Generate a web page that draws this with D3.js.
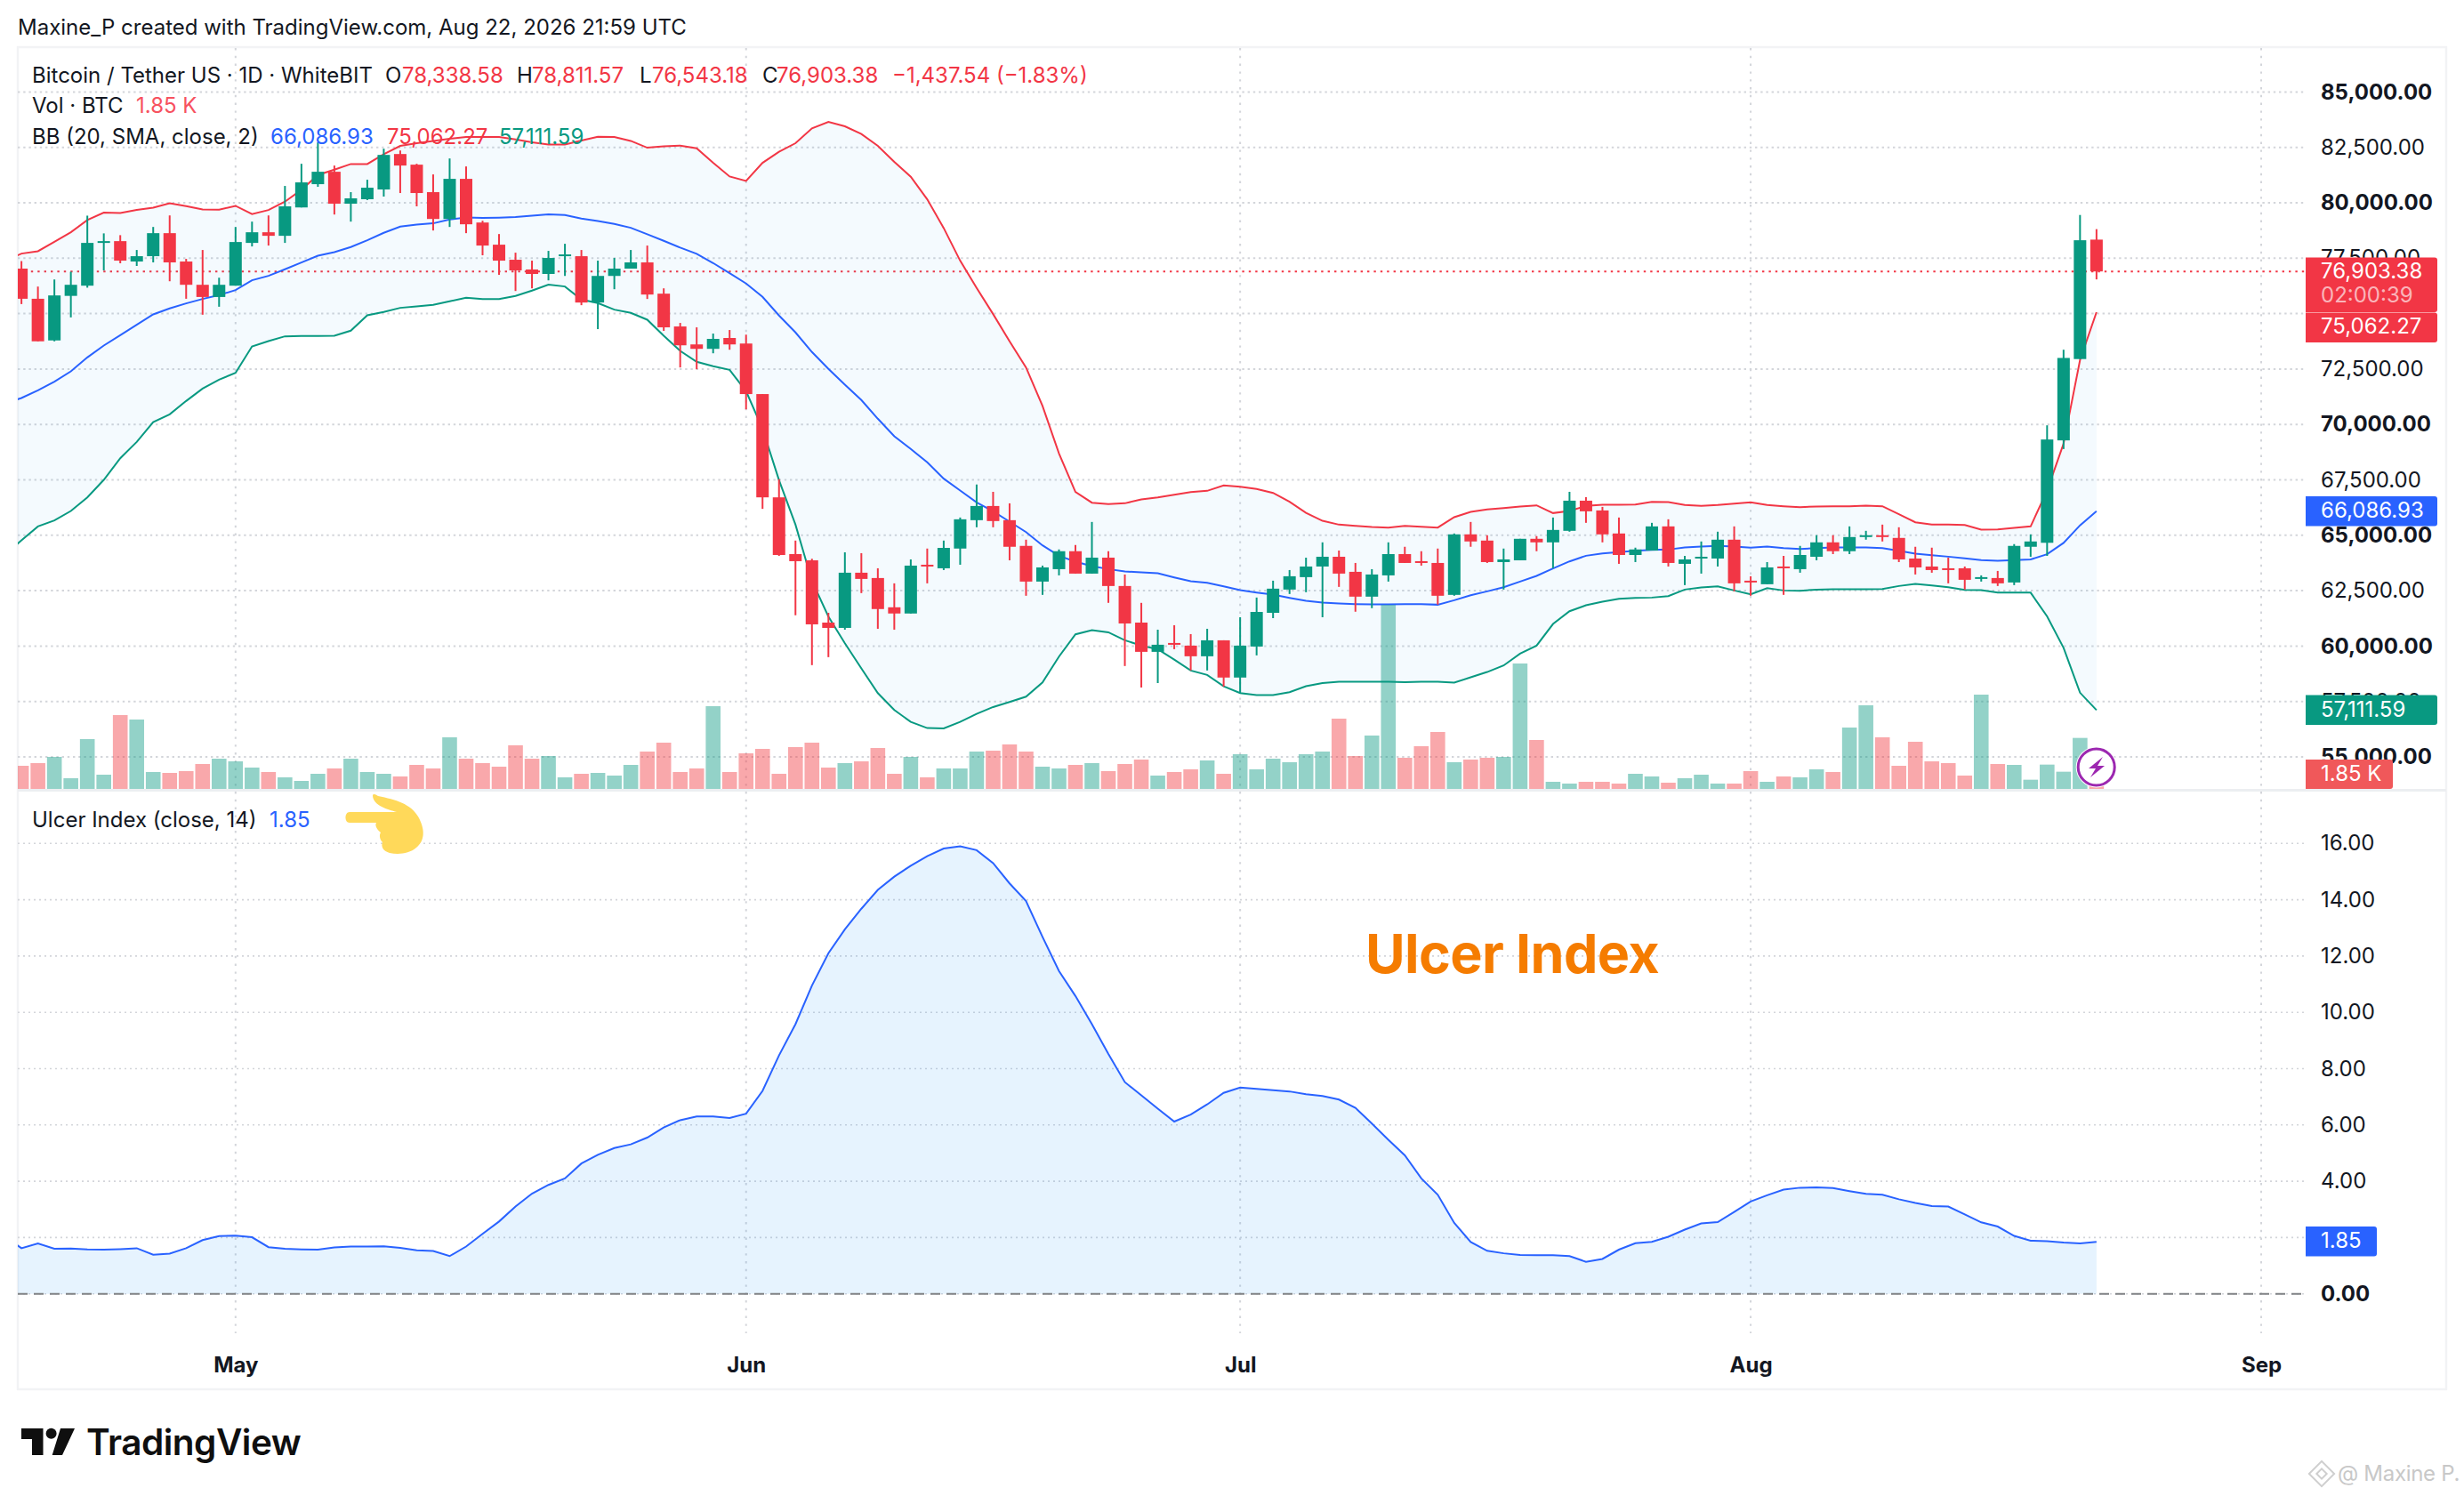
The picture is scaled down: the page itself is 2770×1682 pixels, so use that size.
<!DOCTYPE html>
<html>
<head>
<meta charset="utf-8">
<script src="https://cdn.jsdelivr.net/npm/d3@7"></script>
<style>
  html, body { margin: 0; padding: 0; background: #fff; }
  svg { display: block; }
  text { font-family: Inter, "Noto Sans", sans-serif; }
</style>
</head>
<body>
<div id="chart"></div>
<script>
// one row per day, first row is Apr 17 (only the lines reach the pane edge from it)
const firstDay = "2026-04-17";
const opens = [77500,77030,75670,73790,75800,76260,78190,78270,77350,77590,78630,77350,76300,75750,
  76260,78190,78670,78510,79790,80840,81400,79960,80160,80600,82200,81720,80480,79270,81080,79110,78110,77430,76990,76790,77590,77590,75500,76700,77030,77310,75900,74420,73610,73410,73900,
  73650,71370,66710,64150,63870,61060,60820,63310,63070,61750,61470,63670,63510,64400,65680,66320,65680,64520,62910,63470,64280,63270,63990,62710,61060,59740,60140,60020,59540,60260,
  58580,59980,61500,62550,63110,63590,64030,63350,62230,63190,64150,63830,63750,62310,65040,64760,63790,63870,64840,64680,65200,66560,66120,65080,64110,64310,65400,63710,63950,63950,64800,
  62950,62790,63590,63470,64030,64680,64280,64920,65000,64880,63950,63590,63510,63510,63030,63070,62870,64480,64660,69280,72950,78338.58];
const highs = [77800,77370,76220,76540,76890,79420,78620,78540,77870,78910,79430,77470,77870,76620,
  78910,79150,79430,80760,81760,82730,81680,80480,81040,82440,82360,81760,81280,82000,81640,79190,78590,77750,77390,77830,78150,77870,77390,77510,77870,78070,76140,74580,74380,74100,74260,
  74050,71370,67530,64760,63940,61500,64230,64190,63510,62830,63910,64400,64760,65800,67290,66960,66440,64800,63630,64360,64560,65600,64280,63230,61950,60740,60940,60540,60780,60260,
  61300,62190,62950,63430,63990,64680,64310,63750,63470,64680,64480,64280,64400,65080,65600,65000,64400,64840,64960,65800,66960,66720,66280,65800,64440,65560,65720,64070,64720,65160,65400,
  63150,63790,64070,64520,65000,65000,65400,65200,65480,65360,64480,64440,63990,63590,63190,63390,64600,65040,69960,73370,79450,78811.57];
const lows = [76800,75430,73750,73750,74830,76170,76950,77270,77150,77310,76460,75670,74950,75310,
  76260,78030,78070,78190,79790,80720,79470,79150,80120,80280,80440,79840,78750,78910,78630,77630,76750,76020,76140,76500,76700,75380,74300,76100,77030,75660,74220,72570,72490,73210,73370,
  70680,66190,64070,61390,59140,59500,60740,62390,60780,60740,61470,62830,63430,63670,65360,65360,63870,62270,62310,63190,63270,63270,61950,59100,58130,58330,59860,58900,58900,58170,
  57890,59580,61260,62350,62430,61300,62670,61550,61710,62910,63750,63630,61870,62270,64480,63750,62550,63870,64280,63510,65160,65560,64680,63710,63790,64310,63590,62750,63270,63590,62470,
  62270,62790,62310,63310,63870,64150,64150,64800,64720,63790,63230,63310,62830,62550,62910,62710,62750,64030,64070,68890,72950,76543.18];
const closes = [77030,75670,73750,75820,76300,78190,78270,77390,77590,78630,77310,76300,75750,76300,
  78230,78670,78510,79840,80920,81400,79960,80200,80680,82160,81680,80440,79270,81080,79030,78070,77390,76950,76790,77510,77670,75500,76700,77030,77310,75860,74380,73570,73410,73860,73610,
  71370,66710,64110,63830,60980,60820,63310,63030,61670,61470,63630,63590,64430,65720,66320,65640,64480,62910,63550,64280,63270,63990,62710,61020,59740,60060,60060,59540,60260,58580,
  60020,61540,62590,63150,63590,64030,63270,62230,63230,64150,63750,63750,62270,65040,64720,63790,63910,64840,64680,65240,66560,66080,65040,64110,64360,65400,63750,63910,64030,64800,62830,
  62870,63550,63510,64110,64680,64280,64920,65000,64920,63910,63550,63430,63430,62990,63110,62830,64520,64720,69320,73000,78310,76903.38];
// thousand BTC
const volumes = [14,15.6,17.4,21.6,7.2,33.6,9.6,49.8,46.8,11.4,10.8,12,16.8,20.4,
  18.6,14.4,11.4,7.8,5.4,10.2,13.8,20.4,11.4,10.2,8.4,16.2,13.8,34.8,20.4,17.4,15,29.4,20.4,22.2,7.8,10.2,10.8,9,16.2,25.2,31.2,11.4,13.8,55.8,11.4,
  24,27,10.2,28.2,31.2,14.4,17.4,18.6,27.6,10.2,21.6,7.8,13.8,13.8,25.2,25.8,30,25.2,15,13.8,16.2,17.4,12,16.8,19.8,9,11.4,13.2,19.2,10.2,
  23.4,13.2,20.4,18,23.4,25.2,47.4,22.2,36,124.2,21,28.8,38.4,18,19.8,21,21.6,84.6,33,4.8,3.6,4.8,4.8,3.6,10.2,8.4,4.2,7.2,9.6,3.6,3.6,
  12,4.8,8.4,7.8,13.2,11.4,41.4,56.4,34.8,15.6,31.8,18.6,17.4,9,63.6,16.8,16.2,6.2,16.4,11.6,34.4,1.85];
const bbUpper = [77370,77708,77815,78243,78671,79220,79555,79541,79675,79782,79983,79849,79702,79688,
  79862,79488,79675,80050,80585,81254,81495,81749,81749,82190,82565,82685,82792,82886,82966,82966,82966,82860,82726,82632,82632,82806,82980,82966,82792,82485,82552,82578,82459,81804,81188,
  80988,81804,82299,82687,83356,83650,83450,83102,82566,81844,81175,80158,78860,77388,76157,74980,73749,72572,70832,68691,66951,66469,66402,66442,66616,66710,66830,66951,67004,67245,
  67192,67085,66911,66509,66014,65653,65479,65426,65372,65345,65426,65385,65346,65814,66055,66162,66229,66296,66349,66001,66095,66322,66376,66376,66389,66510,66496,66362,66322,66362,66429,
  66483,66362,66309,66269,66296,66309,66309,66336,66309,65948,65586,65479,65479,65466,65252,65265,65332,65400,67014,69132,72908,75062.27];
const bbBasis = [70951,71192,71540,71928,72396,73025,73560,74029,74497,74965,75233,75460,75661,75835,
  76062,76504,76705,76999,77307,77614,77775,78002,78310,78645,78926,79019,79073,79247,79340,79313,79327,79354,79421,79474,79447,79287,79180,79046,78872,78578,78284,77976,77696,77281,76826,
  76358,75756,74913,74150,73267,72505,71796,71100,70257,69467,68892,68290,67553,67018,66482,66081,65613,65144,64542,64074,63806,63606,63472,63365,63325,63285,63097,62923,62857,62696,
  62522,62415,62321,62174,62040,61960,61920,61893,61880,61880,61893,61893,61867,62067,62295,62469,62656,62910,63165,63499,63820,64074,64182,64235,64302,64342,64355,64449,64489,64516,64489,
  64436,64489,64422,64382,64422,64449,64449,64449,64422,64302,64168,64101,64034,63954,63874,63847,63874,63910,64142,64656,65448,66086.93];
const bbLower = [64127,64770,65398,65666,66094,66710,67499,68476,69212,70108,70456,71058,71620,72022,
  72329,73520,73761,73975,73988,73988,74002,74229,74925,75072,75260,75327,75394,75554,75714,75661,75661,75795,76036,76303,76223,75634,75474,75179,75033,74725,74002,73320,72824,72623,72463,
  71501,69800,67486,65479,62937,61331,60127,58990,57879,57117,56581,56300,56287,56581,56943,57250,57478,57719,58361,59525,60528,60716,60622,60261,60020,59859,59391,58896,58696,58187,
  57879,57786,57786,57919,58187,58334,58388,58388,58388,58388,58374,58388,58388,58348,58589,58830,59124,59659,60020,60997,61572,61840,62001,62134,62175,62188,62255,62549,62643,62696,62509,
  62335,62616,62509,62496,62549,62563,62563,62563,62576,62710,62803,62736,62656,62536,62522,62415,62415,62409,61340,59922,57896,57111.59];
const ulcer = [2.05,1.62,1.79,1.60,1.61,1.58,1.57,1.59,1.62,1.39,1.43,1.62,1.91,2.05,
  2.07,2.01,1.66,1.60,1.58,1.57,1.65,1.68,1.68,1.69,1.63,1.55,1.52,1.34,1.68,2.13,2.57,3.10,3.56,3.87,4.10,4.63,4.94,5.18,5.31,5.55,5.91,6.17,6.30,6.30,6.25,
  6.40,7.21,8.47,9.58,10.95,12.10,12.95,13.68,14.35,14.82,15.21,15.55,15.82,15.90,15.76,15.30,14.58,13.95,12.68,11.47,10.58,9.58,8.52,7.52,7.05,6.58,6.12,6.37,6.73,7.14,
  7.33,7.28,7.23,7.19,7.09,7.03,6.90,6.61,6.05,5.47,4.92,4.10,3.52,2.52,1.84,1.53,1.44,1.38,1.37,1.37,1.34,1.14,1.24,1.57,1.80,1.85,2.03,2.28,2.50,2.55,2.91,
  3.28,3.50,3.70,3.77,3.78,3.76,3.65,3.55,3.52,3.36,3.23,3.12,3.10,2.82,2.54,2.39,2.06,1.89,1.87,1.82,1.79,1.85];

const priceTicks = [55000,57500,60000,62500,65000,67500,70000,72500,75000,77500,80000,82500,85000];
const priceLabels = [55000,57500,60000,62500,65000,67500,70000,72500,77500,80000,82500,85000];
const ulcerTicks = [0,2,4,6,8,10,12,14,16];
const ulcerLabels = [0,4,6,8,10,12,14,16];
const monthTicks = ["2026-05-01","2026-06-01","2026-07-01","2026-08-01","2026-09-01"];

const UP = "#089981", DOWN = "#f23645", BLUE = "#2962ff", INK = "#131722";
const W = 2770, H = 1682;

const parseDay = d3.utcParse("%Y-%m-%d");
const days = opens.map((_, i) => d3.utcDay.offset(parseDay(firstDay), i));
const rows = days.map((day, i) => ({
  day, open: opens[i], high: highs[i], low: lows[i], close: closes[i], vol: volumes[i],
  upper: bbUpper[i], basis: bbBasis[i], lower: bbLower[i], ui: ulcer[i],
}));

const x = d3.scaleUtc().domain([parseDay("2026-05-01"), parseDay("2026-09-01")]).range([264.8, 2542]);
const yPrice = d3.scaleLinear().domain([55000, 85000]).range([851, 103.4]);
const yVol = d3.scaleLinear().domain([0, 130]).range([887, 670.3]);
const yUlcer = d3.scaleLinear().domain([0, 16]).range([1454.7, 948.3]);

const svg = d3.select("#chart").append("svg").attr("width", W).attr("height", H);
svg.append("rect").attr("width", W).attr("height", H).attr("fill", "#fff");

const defs = svg.append("defs");
defs.append("clipPath").attr("id", "mainClip").append("rect")
  .attr("x", 20).attr("y", 54).attr("width", 2572).attr("height", 833);
defs.append("clipPath").attr("id", "uiClip").append("rect")
  .attr("x", 20).attr("y", 889).attr("width", 2572).attr("height", 610);

// Frame
svg.append("rect").attr("x", 20).attr("y", 53).attr("width", 2730).attr("height", 1509)
  .attr("fill", "none").attr("stroke", "#f2f3f5").attr("stroke-width", 2.5);

// Grid
const grid = svg.append("g").attr("fill", "none").attr("stroke", "#d3d5da");
grid.selectAll(".v").data(monthTicks).join("line")
  .attr("x1", d => x(parseDay(d))).attr("x2", d => x(parseDay(d)))
  .attr("y1", 54).attr("y2", 1499)
  .attr("stroke-width", 2).attr("stroke-dasharray", "2.4 6.4");
grid.selectAll(".hp").data(priceTicks).join("line")
  .attr("x1", 20).attr("x2", 2592)
  .attr("y1", d => yPrice(d)).attr("y2", d => yPrice(d))
  .attr("stroke-width", 2).attr("stroke-dasharray", "2.4 3.8");
grid.selectAll(".hu").data(ulcerTicks).join("line")
  .attr("x1", 20).attr("x2", 2592)
  .attr("y1", d => yUlcer(d)).attr("y2", d => yUlcer(d))
  .attr("stroke-width", 1.6).attr("stroke-dasharray", "2 4");

// Pane divider
svg.append("rect").attr("x", 20).attr("y", 887).attr("width", 2730).attr("height", 3).attr("fill", "#eceef1");

// Main pane
const main = svg.append("g").attr("clip-path", "url(#mainClip)");

main.append("line")
  .attr("x1", 20).attr("x2", 2592)
  .attr("y1", yPrice(closes[closes.length - 1])).attr("y2", yPrice(closes[closes.length - 1]))
  .attr("stroke", DOWN).attr("stroke-width", 2).attr("stroke-dasharray", "2.4 5");

const bandArea = d3.area().x(d => x(d.day)).y0(d => yPrice(d.lower)).y1(d => yPrice(d.upper));
main.append("path").datum(rows).attr("d", bandArea).attr("fill", "rgba(33,150,243,0.05)");

[["upper", DOWN], ["basis", BLUE], ["lower", UP]].forEach(([key, color]) => {
  main.append("path").datum(rows)
    .attr("d", d3.line().x(d => x(d.day)).y(d => yPrice(d[key])))
    .attr("fill", "none").attr("stroke", color).attr("stroke-width", 2);
});

// Volume
main.selectAll(".vol").data(rows).join("rect")
  .attr("x", d => x(d.day) - 8.3).attr("width", 16.6)
  .attr("y", d => yVol(d.vol)).attr("height", d => yVol(0) - yVol(d.vol))
  .attr("fill", d => d.close >= d.open ? "rgba(8,153,129,0.44)" : "rgba(242,54,60,0.43)");

// Candles
const candle = main.selectAll(".candle").data(rows).join("g")
  .attr("fill", d => d.close >= d.open ? UP : DOWN)
  .attr("stroke", d => d.close >= d.open ? UP : DOWN);
candle.append("line")
  .attr("x1", d => x(d.day)).attr("x2", d => x(d.day))
  .attr("y1", d => yPrice(d.high)).attr("y2", d => yPrice(d.low))
  .attr("stroke-width", 2);
candle.append("rect")
  .attr("x", d => x(d.day) - 7).attr("width", 14)
  .attr("y", d => yPrice(Math.max(d.open, d.close)))
  .attr("height", d => Math.max(2, Math.abs(yPrice(d.open) - yPrice(d.close))))
  .attr("stroke", "none");

// Ulcer pane
const uiPane = svg.append("g").attr("clip-path", "url(#uiClip)");
uiPane.append("path").datum(rows)
  .attr("d", d3.area().x(d => x(d.day)).y0(yUlcer(0)).y1(d => yUlcer(d.ui)))
  .attr("fill", "rgba(33,150,243,0.115)");
uiPane.append("path").datum(rows)
  .attr("d", d3.line().x(d => x(d.day)).y(d => yUlcer(d.ui)))
  .attr("fill", "none").attr("stroke", BLUE).attr("stroke-width", 2);
svg.append("line")
  .attr("x1", 20).attr("x2", 2592).attr("y1", yUlcer(0)).attr("y2", yUlcer(0))
  .attr("stroke", "#808285").attr("stroke-width", 2).attr("stroke-dasharray", "11 7");

// Axes
const axisFont = 24;
function styleAxis(g, isBold) {
  g.select(".domain").remove();
  g.selectAll(".tick line").remove();
  g.selectAll(".tick text")
    .attr("fill", INK).attr("font-size", axisFont)
    .attr("font-family", "Inter, sans-serif")
    .attr("font-weight", d => isBold(d) ? 700 : 400);
}
const fmtPrice = d3.format(",.2f");
svg.append("g").attr("transform", "translate(2609,0)")
  .call(d3.axisRight(yPrice).tickValues(priceLabels).tickFormat(fmtPrice).tickSize(0).tickPadding(0))
  .call(g => styleAxis(g, d => d % 5000 === 0));
svg.append("g").attr("transform", "translate(2609,0)")
  .call(d3.axisRight(yUlcer).tickValues(ulcerLabels).tickFormat(d3.format(".2f")).tickSize(0).tickPadding(0))
  .call(g => styleAxis(g, d => d === 0));
svg.append("g").attr("transform", "translate(0,1526)")
  .call(d3.axisBottom(x).tickValues(monthTicks.map(parseDay)).tickFormat(d3.utcFormat("%b")).tickSize(0).tickPadding(0))
  .call(g => styleAxis(g, () => true));

// Value badges on the axis
function badge(y0, y1, xEnd, color, lines) {
  const g = svg.append("g");
  g.append("path")
    .attr("d", `M2592 ${y0} H${xEnd - 3} Q${xEnd} ${y0} ${xEnd} ${y0 + 3} V${y1 - 3} Q${xEnd} ${y1} ${xEnd - 3} ${y1} H2592 Z`)
    .attr("fill", color);
  lines.forEach(l => {
    g.append("text").attr("x", 2609).attr("y", l.y).attr("dy", "0.35em")
      .attr("fill", "#fff").attr("fill-opacity", l.op || 1).attr("font-size", axisFont).text(l.t);
  });
}
badge(289.5, 351, 2740, DOWN, [{ t: fmtPrice(closes[closes.length - 1]), y: 305 }, { t: "02:00:39", y: 332, op: 0.65 }]);
badge(351.5, 385, 2740, DOWN, [{ t: fmtPrice(bbUpper[bbUpper.length - 1]), y: 367 }]);
badge(558, 591.5, 2740, BLUE, [{ t: fmtPrice(bbBasis[bbBasis.length - 1]), y: 574 }]);
badge(781.5, 815, 2740, UP, [{ t: fmtPrice(bbLower[bbLower.length - 1]), y: 798 }]);
badge(854, 887, 2690, "#f0585a", [{ t: "1.85 K", y: 870 }]);
badge(1379, 1412.5, 2672, BLUE, [{ t: "1.85", y: 1395 }]);

// Legends
function label(xp, yp, t, color, size) {
  return svg.append("text").attr("x", xp).attr("y", yp).attr("dy", "0.35em")
    .attr("fill", color || INK).attr("font-size", size || 24).text(t);
}
label(20, 31, "Maxine_P created with TradingView.com, Aug 22, 2026 21:59 UTC", INK, 24);
label(36, 85, "Bitcoin / Tether US · 1D · WhiteBIT");
label(433, 85, "O"); label(452, 85, "78,338.58", DOWN);
label(581, 85, "H"); label(598, 85, "78,811.57", DOWN);
label(719, 85, "L"); label(733, 85, "76,543.18", DOWN);
label(857, 85, "C"); label(873, 85, "76,903.38", DOWN);
label(1003, 85, "−1,437.54 (−1.83%)", DOWN);
label(36, 119, "Vol · BTC");
label(153, 119, "1.85 K", "#f7525f");
label(36, 154, "BB (20, SMA, close, 2)");
label(304, 154, "66,086.93", BLUE);
label(435, 154, "75,062.27", DOWN);
label(561, 154, "57,111.59", UP);
label(36, 921.5, "Ulcer Index (close, 14)");
label(303, 921.5, "1.85", BLUE);

// Hand
svg.append("path")
  .attr("d", "M393 913 H446 C436 910 420 906 419 895 C419 892 422 893 425 895 C445 899 462 904 470 918 C478 932 478 945 468 953 C460 960 448 961 438 959 C431 957 428 952 430 947 C427 944 426 939 428 936 C424 933 421 928 423 925 H393 C387 925 387 913 393 913 Z")
  .attr("fill", "#ffd95a");

// Annotation
svg.append("text").attr("x", 1535).attr("y", 1073).attr("dy", "0.35em")
  .attr("fill", "#f57c00").attr("font-size", 61).attr("font-weight", 700).attr("letter-spacing", "-0.6").text("Ulcer Index");

// Flash marker on the last bar
const bolt = svg.append("g");
bolt.append("circle").attr("cx", 2356.7).attr("cy", 862.5).attr("r", 23).attr("fill", "#fff");
bolt.append("circle").attr("cx", 2356.7).attr("cy", 862.5).attr("r", 20.5)
  .attr("fill", "#fff").attr("stroke", "#9c27b0").attr("stroke-width", 3);
bolt.append("path").attr("d", "M2364 851 L2348 864 L2356 864 L2350 874 L2366 861 L2358 861 Z").attr("fill", "#9c27b0");

// Logo
svg.append("path")
  .attr("d", "M24 1606 H48.5 V1636 H36 V1618 H24 Z M68 1606 H84 L70 1636 H58.7 Z")
  .attr("fill", "#0f0f0f");
svg.append("circle").attr("cx", 57.6).attr("cy", 1611.8).attr("r", 6).attr("fill", "#0f0f0f");
svg.append("text").attr("x", 97).attr("y", 1636).attr("fill", "#0f0f0f")
  .attr("font-size", 40.5).attr("font-weight", 600).attr("letter-spacing", "-0.5").text("TradingView");

// Watermark
const wm = svg.append("g").attr("fill", "none").attr("stroke", "#cfcfcf").attr("stroke-width", 2);
wm.append("rect").attr("x", -10).attr("y", -10).attr("width", 20).attr("height", 20)
  .attr("transform", "translate(2610,1657) rotate(45)");
wm.append("rect").attr("x", -4).attr("y", -4).attr("width", 8).attr("height", 8)
  .attr("transform", "translate(2610,1657) rotate(45)");
svg.append("text").attr("x", 2628).attr("y", 1657).attr("dy", "0.35em")
  .attr("fill", "#c8c8c8").attr("font-size", 24).attr("letter-spacing", "-0.3").text("@ Maxine P.");
</script>
</body>
</html>
